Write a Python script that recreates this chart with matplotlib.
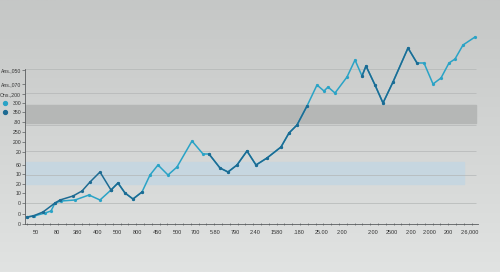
import numpy as np
import matplotlib
matplotlib.use("Agg")
import matplotlib.pyplot as plt

plt.rcParams["font.family"] = ["Liberation Sans", "DejaVu Sans"]

# values (x along the axis, y up from the baseline)
cyan_start_x = [2, 9, 20, 26, 30, 36, 50, 64, 75, 86]
cyan_start_y = [7, 8, 11, 13, 21, 23, 24, 29, 24, 34]
dark_start_x = [2, 8, 18, 30, 35, 48, 57, 65, 75, 86]
dark_start_y = [7, 8, 12, 21, 24, 28, 33, 42, 52, 34]

path_x = [86, 93, 100, 108, 117, 125, 133, 143, 152, 167, 178, 184, 195, 203, 212,
          222, 231, 242, 256, 264, 272, 282, 292, 299, 303, 310, 322, 330, 337, 341,
          350, 358, 368, 383, 392, 399, 408, 416, 424, 430, 438, 450]
path_y = [34, 41, 31, 25, 32, 49, 59, 49, 57, 83, 70, 70, 56, 52, 59,
          73, 59, 66, 77, 91, 99, 118, 139, 133, 137, 131, 147, 164, 148, 158,
          139, 121, 142, 176, 161, 161, 140, 146, 161, 165, 179, 187]
# stretches of the path drawn in the dark colour
dark_parts = [(0, 4), (11, 21), (28, 34)]

y_ticks = [154, 140, 130, 121, 112, 102, 92, 82, 72, 59, 50, 40, 31, 21, 10, 0]
y_labels = ["Ans.,050", "Ans.,070", "Ons.,200", "300", "350", ".80", "250", "200",
            "20", "60", "10", "20", "10", "0", "0", "0"]
x_ticks = [11, 32, 52, 73, 92, 112, 132, 152, 170, 190, 210, 230, 252, 274, 297,
           317, 348, 367, 386, 405, 423, 445]
x_labels = ["50", "80", "380", "400", "500", "800", "450", "500", "700", "5.80", "790",
            "2.40", "1580", ".180", "25.00", "2.00", "2.00", "2500", "2.00", "2.000",
            "200", "2.6,000"]
grid_y = [155, 131, 99, 73, 49, 21]

CYAN = "#2aa3c6"
DARK = "#1d6b93"

fig = plt.figure(figsize=(5, 2.72), dpi=100)

# soft grey gradient background
bg = fig.add_axes([0, 0, 1, 1])
grad = np.linspace(0, 1, 256).reshape(-1, 1)
cmap = matplotlib.colors.LinearSegmentedColormap.from_list("bg", ["#c5c7c6", "#e1e3e2"])
bg.imshow(grad, aspect="auto", cmap=cmap, extent=[0, 1, 0, 1], origin="upper")
bg.axis("off")

ax = fig.add_axes([25 / 500, 1 - 224 / 272, 453 / 500, 194 / 272])
ax.patch.set_alpha(0)
ax.set_xlim(0, 453)
ax.set_ylim(0, 194)

ax.axhspan(101, 119, xmin=0, xmax=451 / 453, color="#b5b7b6", zorder=1)
ax.axhspan(40, 62, xmin=0, xmax=439 / 453, color="#c6d6e0", zorder=1)
for g in grid_y:
    ax.hlines(g, 0, 451, color="#b3b6b6", lw=0.5, zorder=2)

ax.plot(cyan_start_x, cyan_start_y, color=CYAN, lw=1.1, marker="o", ms=1.3, zorder=3)
ax.plot(path_x, path_y, color=CYAN, lw=1.1, marker="o", ms=1.3, zorder=3, clip_on=False)
ax.plot(dark_start_x, dark_start_y, color=DARK, lw=1.1, marker="o", ms=1.3, zorder=4)
for a, b in dark_parts:
    ax.plot(path_x[a:b + 1], path_y[a:b + 1], color=DARK, lw=1.1, marker="o", ms=1.3,
            zorder=4, clip_on=False)

for s in ["top", "right"]:
    ax.spines[s].set_visible(False)
ax.spines["left"].set_bounds(0, 155)
for s in ["left", "bottom"]:
    ax.spines[s].set_color("#5a5d5f")
    ax.spines[s].set_linewidth(0.6)

ax.set_yticks(y_ticks)
ax.set_yticklabels(y_labels)
ax.set_xticks(x_ticks)
ax.set_xticklabels(x_labels)
ax.set_xticks(np.arange(2, 453, 7.8), minor=True)
ax.tick_params(axis="y", labelsize=3.7, length=2, width=0.5, pad=0.8,
               colors="#5a5d5f", labelcolor="#333333")
ax.tick_params(axis="x", which="major", labelsize=4.0, length=0, pad=4,
               labelcolor="#333333")
ax.tick_params(axis="x", which="minor", length=1.5, width=0.5, direction="inout",
               colors="#5a5d5f")

# little coloured markers beside the "300" / "350" labels
ax.plot([-20], [121], "o", color=CYAN, ms=2.8, clip_on=False)
ax.plot([-20], [112], "o", color=DARK, ms=2.8, clip_on=False)

fig.savefig("out.png", dpi=100)
